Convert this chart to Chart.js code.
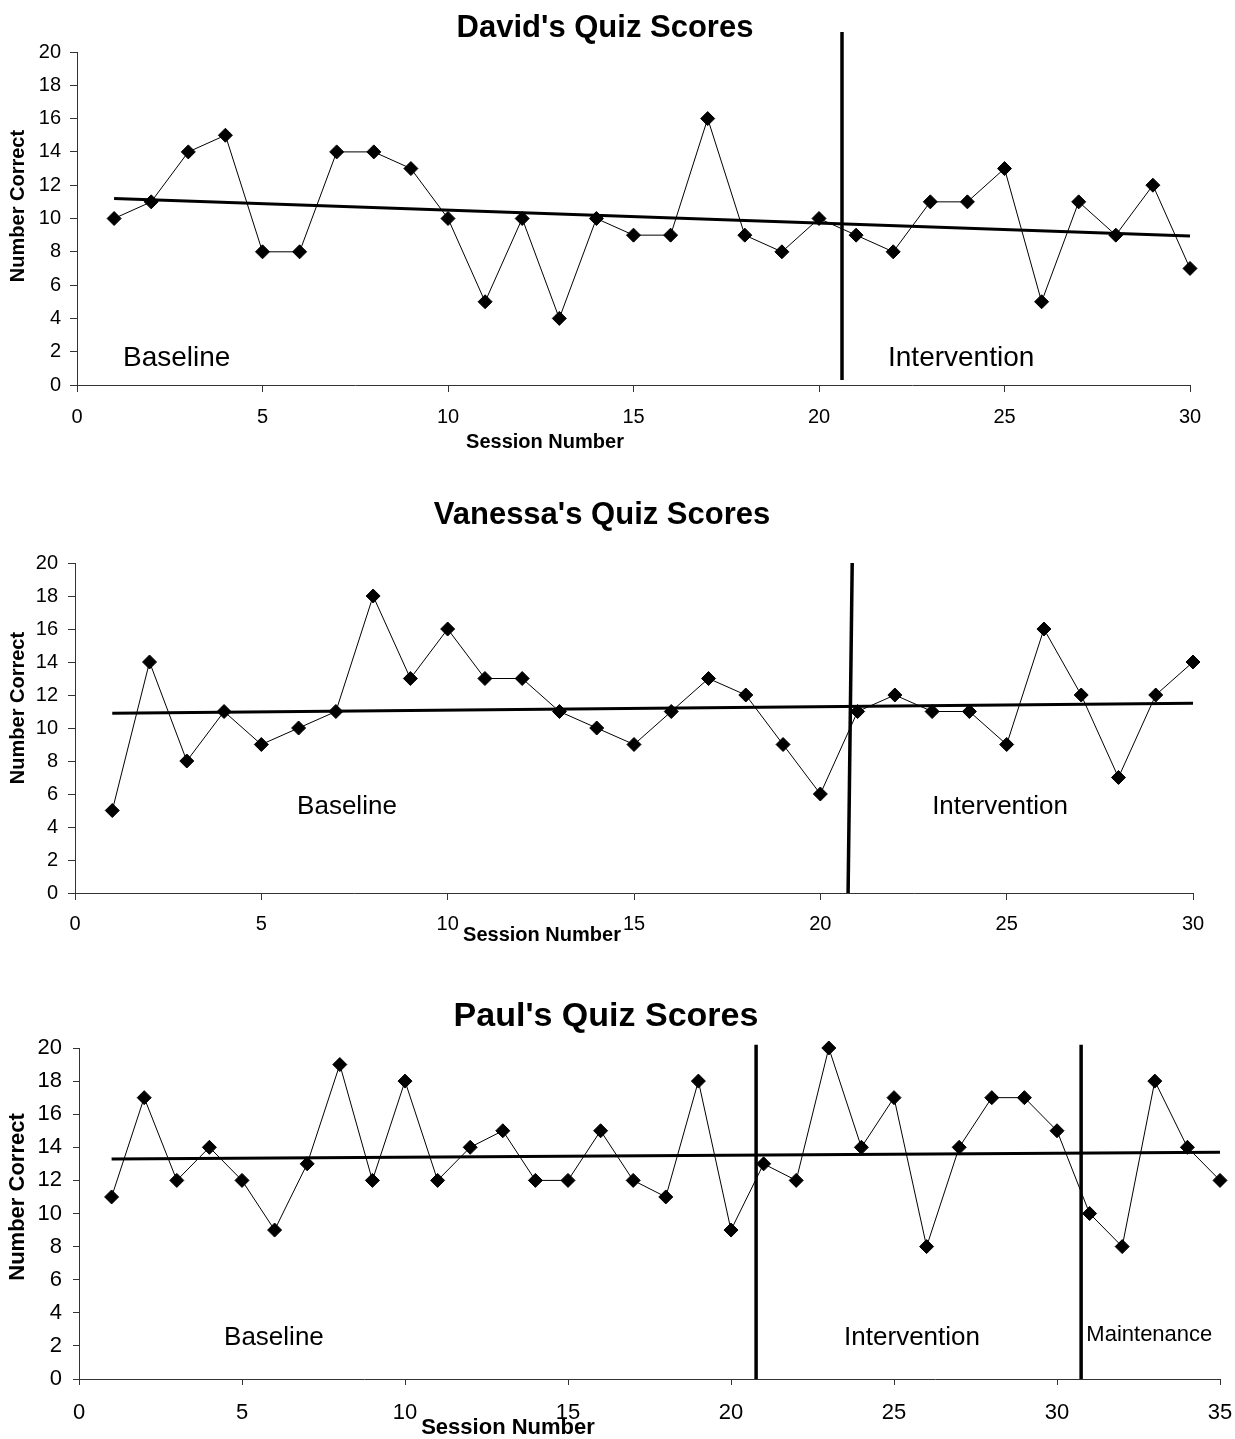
<!DOCTYPE html>
<html lang="en">
<head>
  <meta charset="UTF-8" />
  <title>Quiz Scores</title>
  <script src="https://cdn.jsdelivr.net/npm/chart.js"></script>
  <style>
    body { margin: 0; background: #fff; font-family: 'Liberation Sans', Arial, sans-serif; }
    .page { position: relative; width: 1235px; height: 1439px; }
    canvas { position: absolute; left: 0; }
  </style>
</head>
<body>
<div class="page">
  <canvas id="david" width="1235" height="470" style="top:0"></canvas>
  <canvas id="vanessa" width="1235" height="490" style="top:470px"></canvas>
  <canvas id="paul" width="1235" height="479" style="top:960px"></canvas>
</div>
<script>
  // ---- data ----
  const davidSessions = [1,2,3,4,5,6,7,8,9,10,11,12,13,14,15,16,17,18,19,20,21,22,23,24,25,26,27,28,29,30];
  const davidScores   = [10,11,14,15,8,8,14,14,13,10,5,10,4,10,9,9,16,9,8,10,9,8,11,11,13,5,11,9,12,7];
  const davidTrend    = [11.2, 8.95];        // trend line at first / last session
  const davidPhaseX   = [20.62];             // phase change line(s)

  const vanessaSessions = [1,2,3,4,5,6,7,8,9,10,11,12,13,14,15,16,17,18,19,20,21,22,23,24,25,26,27,28,29,30];
  const vanessaScores   = [5,14,8,11,9,10,11,18,13,16,13,13,11,10,9,11,13,12,9,6,11,12,11,11,9,16,12,7,12,14];
  const vanessaTrend    = [10.9, 11.5];
  const vanessaPhaseX   = [20.8];

  const paulSessions = [1,2,3,4,5,6,7,8,9,10,11,12,13,14,15,16,17,18,19,20,21,22,23,24,25,26,27,28,29,30,31,32,33,34,35];
  const paulScores   = [11,17,12,14,12,9,13,19,12,18,12,14,15,12,12,15,12,11,18,9,13,12,20,14,17,8,14,17,17,15,10,8,18,14,12];
  const paulTrend    = [13.3, 13.7];
  const paulPhaseX   = [20.77, 30.74];

  const yTicks = [0, 20, 2];   // min, max, step
  const phaseNames = ['Baseline', 'Intervention', 'Maintenance'];

  const FONT = "'Liberation Sans', Arial, sans-serif";

  // draws titles, axis titles and phase labels
  const textPlugin = {
    id: 'texts',
    afterDraw(chart, args, o) {
      const ctx = chart.ctx;
      const xs = chart.scales.x, ys = chart.scales.y;
      ctx.save();
      ctx.fillStyle = '#000';
      ctx.textBaseline = 'middle';

      ctx.textAlign = 'center';
      ctx.font = 'bold ' + o.titleSize + 'px ' + FONT;
      ctx.fillText(o.title, o.titleX, o.titleY);

      ctx.font = 'bold ' + o.axisSize + 'px ' + FONT;
      ctx.fillText('Session Number', o.xTitleX, o.xTitleY);

      ctx.save();
      ctx.translate(o.yTitleX, o.yTitleY);
      ctx.rotate(-Math.PI / 2);
      ctx.fillText('Number Correct', 0, 0);
      ctx.restore();

      ctx.textAlign = 'left';
      o.phases.forEach((p, i) => {
        ctx.font = p.size + 'px ' + FONT;
        ctx.fillText(phaseNames[i], xs.getPixelForValue(p.x), ys.getPixelForValue(p.y));
      });
      ctx.restore();
    }
  };

  function buildChart(id, sessions, scores, trend, phaseX, cfg) {
    const datasets = [{
      data: sessions.map((s, i) => ({ x: s, y: scores[i] })),
      showLine: true,
      borderColor: '#000',
      borderWidth: 1,
      backgroundColor: '#000',
      pointStyle: 'rectRot',
      pointRadius: 7,
      pointBorderWidth: 1,
      clip: false,
      order: 1
    }, {
      data: [{ x: sessions[0], y: trend[0] }, { x: sessions[sessions.length - 1], y: trend[1] }],
      showLine: true,
      borderColor: '#000',
      borderWidth: 3,
      pointRadius: 0,
      clip: false,
      order: 2
    }];
    phaseX.forEach((px, i) => {
      const dx = cfg.phaseSlant ? cfg.phaseSlant[i] : 0;
      datasets.push({
        data: [{ x: px - dx, y: cfg.phaseBottom }, { x: px + dx, y: cfg.phaseTop }],
        showLine: true,
        borderColor: '#000',
        borderWidth: 3.5,
        pointRadius: 0,
        clip: false,
        order: 3
      });
    });

    const tickFont = { family: FONT, size: cfg.tickSize };
    return new Chart(document.getElementById(id), {
      type: 'scatter',
      data: { datasets },
      plugins: [textPlugin],
      options: {
        responsive: false,
        animation: false,
        devicePixelRatio: 1,
        layout: { padding: { top: cfg.padTop, right: cfg.padRight, left: 0, bottom: 0 } },
        plugins: {
          legend: { display: false },
          tooltip: { enabled: false },
          texts: cfg.texts
        },
        scales: {
          x: {
            type: 'linear',
            min: 0,
            max: sessions.length,
            // fixed axis height, no extra room reserved for the end labels
            afterFit: s => { s.height = cfg.xAxisH; s.paddingLeft = 0; s.paddingRight = 0; },
            border: { color: '#333', width: 1 },
            grid: { drawOnChartArea: false, color: '#333', tickLength: cfg.tickLen },
            ticks: { stepSize: 5, color: '#000', font: tickFont, padding: cfg.xPad, maxRotation: 0 }
          },
          y: {
            min: yTicks[0],
            max: yTicks[1],
            afterFit: s => { s.width = cfg.yAxisW; },
            border: { color: '#333', width: 1 },
            grid: { drawOnChartArea: false, color: '#333', tickLength: cfg.tickLen },
            ticks: { stepSize: yTicks[2], color: '#000', font: tickFont, padding: cfg.yPad }
          }
        }
      }
    });
  }

  buildChart('david', davidSessions, davidScores, davidTrend, davidPhaseX, {
    padTop: 52, padRight: 45, xAxisH: 85, yAxisW: 77, tickLen: 7, tickSize: 20, xPad: 13, yPad: 9,
    phaseTop: 21.2, phaseBottom: 0.3,
    texts: {
      title: "David's Quiz Scores", titleSize: 31, titleX: 605, titleY: 28,
      axisSize: 20, xTitleX: 545, xTitleY: 442, yTitleX: 18, yTitleY: 206,
      phases: [{ x: 1.24, y: 1.62, size: 28 }, { x: 21.86, y: 1.62, size: 28 }]
    }
  });

  buildChart('vanessa', vanessaSessions, vanessaScores, vanessaTrend, vanessaPhaseX, {
    padTop: 93, padRight: 42, xAxisH: 67, yAxisW: 75, tickLen: 7, tickSize: 20, xPad: 12, yPad: 10,
    phaseTop: 20, phaseBottom: 0, phaseSlant: [0.055],
    texts: {
      title: "Vanessa's Quiz Scores", titleSize: 31, titleX: 602, titleY: 45,
      axisSize: 20, xTitleX: 542, xTitleY: 465, yTitleX: 18, yTitleY: 238,
      phases: [{ x: 5.96, y: 5.2, size: 26 }, { x: 23.0, y: 5.2, size: 26 }]
    }
  });

  buildChart('paul', paulSessions, paulScores, paulTrend, paulPhaseX, {
    padTop: 88, padRight: 15, xAxisH: 60, yAxisW: 79, tickLen: 6, tickSize: 22, xPad: 15, yPad: 11,
    phaseTop: 20.2, phaseBottom: 0,
    texts: {
      title: "Paul's Quiz Scores", titleSize: 34, titleX: 606, titleY: 57,
      axisSize: 22, xTitleX: 508, xTitleY: 468, yTitleX: 18, yTitleY: 237,
      phases: [{ x: 4.45, y: 2.5, size: 26 }, { x: 23.47, y: 2.5, size: 26 }, { x: 30.9, y: 2.66, size: 22 }]
    }
  });
</script>
</body>
</html>
